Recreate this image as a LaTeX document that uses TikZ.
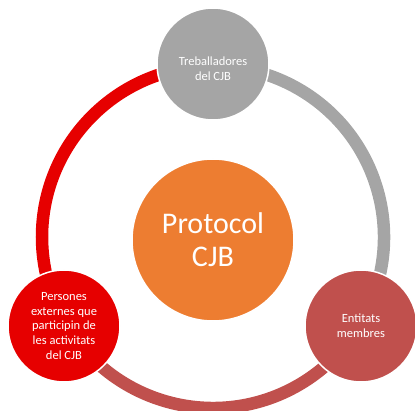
\documentclass[tikz,border=0pt]{standalone}
\usepackage{fontspec}
\setmainfont{Carlito}
\definecolor{cred}{HTML}{E60000}
\definecolor{cgray}{HTML}{A5A5A5}
\definecolor{crose}{HTML}{C0504D}
\definecolor{corange}{HTML}{ED7D31}
\begin{document}
\begin{tikzpicture}[x=1pt,y=1pt,
  ringarc/.style={line width=12.5pt},
  btext/.style={text=white,align=center,font=\fontsize{12.5}{14.6}\selectfont},
  bubble/.style={circle,minimum size=112pt,inner sep=0pt,draw=white,line width=1.5pt,btext},
  hub/.style={circle,minimum size=162pt,inner sep=0pt,fill=corange,draw=white,line width=1.5pt,text=white,align=center,font=\fontsize{30}{33}\selectfont}]
\useasboundingbox (0,0) rectangle (415,410);
\coordinate (c) at (213,173);
\draw[ringarc,cred] ([shift={(90:171)}]c) arc[start angle=90,end angle=210,radius=171];
\draw[ringarc,crose] ([shift={(210:171)}]c) arc[start angle=210,end angle=330,radius=171];
\draw[ringarc,cgray] ([shift={(-30:171)}]c) arc[start angle=-30,end angle=90,radius=171];
\node[hub] (center) at (213,170) {Protocol\\CJB};
\node[bubble,fill=cgray,label={[btext,yshift=-5pt]center:{Treballadores\\del CJB}}] (top) at (213,346) {};
\node[bubble,fill=cred] (left) at (64,84) {Persones\\externes que\\participin de\\les activitats\\del CJB};
\node[bubble,fill=crose] (right) at (361,84) {Entitats\\membres};
\end{tikzpicture}
\end{document}
